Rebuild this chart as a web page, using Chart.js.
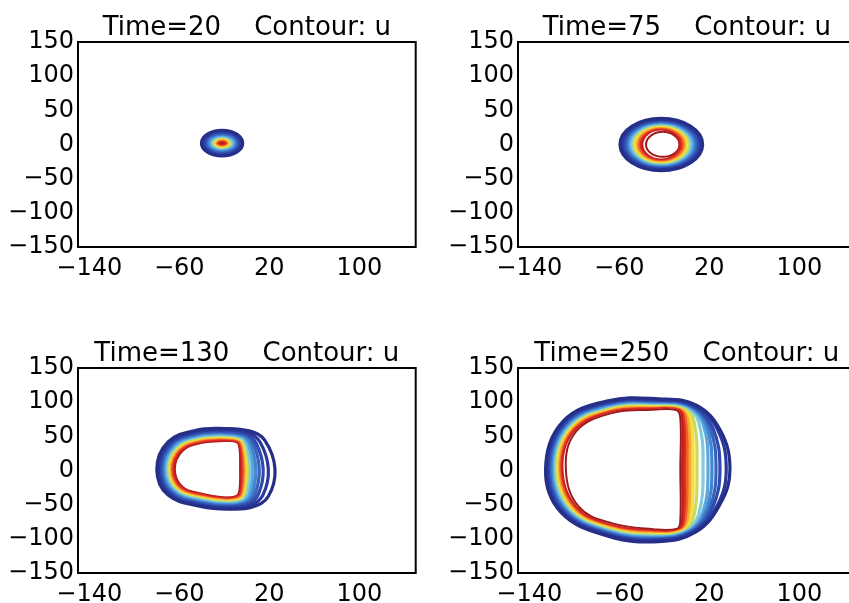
<!DOCTYPE html>
<html>
<head>
<meta charset="utf-8">
<script src="https://cdn.jsdelivr.net/npm/chart.js@4.4.1/dist/chart.umd.min.js"></script>
<style>
  html, body { margin: 0; padding: 0; background: #fff; overflow: hidden; width: 849px; height: 603px; }
  canvas { position: absolute; }
</style>
</head>
<body>
<canvas id="c0" width="430" height="300" style="left:0px;top:0px"></canvas>
<canvas id="c1" width="430" height="300" style="left:440px;top:0px"></canvas>
<canvas id="c2" width="430" height="300" style="left:0px;top:326px"></canvas>
<canvas id="c3" width="430" height="300" style="left:440px;top:326px"></canvas>
<script>
var times = [20, 75, 130, 250];
var xTicks = [-140, -60, 20, 100];
var yTicks = [-150, -100, -50, 0, 50, 100, 150];

// contour levels, outermost (low u) first
var levelColors = ['#252f88', '#2a389b', '#2f49ac', '#3762bc', '#4284cf', '#58a8dd', '#84c9dc',
                   '#c4dc62', '#f6de3b', '#f7a634', '#f0622a', '#de2a22', '#c41f1f', '#9c1a1a'];

// each ring: points, going round the contour
var rings20 = [
    [[-40.5, 2], [-22, 21], [-3.5, 2], [-22, -17]],
    [[-39, 2], [-22, 19.5], [-5, 2], [-22, -15.5]],
    [[-37.5, 2], [-22, 18], [-6.5, 2], [-22, -14]],
    [[-36.1, 2], [-22, 16.4], [-7.9, 2], [-22, -12.4]],
    [[-34.6, 2], [-22, 14.9], [-9.4, 2], [-22, -10.9]],
    [[-33.1, 2], [-22, 13.4], [-10.9, 2], [-22, -9.4]],
    [[-31.8, 2], [-22, 12.1], [-12.2, 2], [-22, -8.1]],
    [[-30.5, 2], [-22, 10.7], [-13.5, 2], [-22, -6.7]],
    [[-29.4, 2], [-22, 9.6], [-14.6, 2], [-22, -5.6]],
    [[-28.3, 2], [-22, 8.5], [-15.7, 2], [-22, -4.5]],
    [[-27.2, 2], [-22, 7.3], [-16.8, 2], [-22, -3.3]],
    [[-25.9, 2], [-22, 6], [-18.1, 2], [-22, -2]],
    [[-24.6, 2], [-22, 4.7], [-19.4, 2], [-22, -0.7]],
    [[-23.3, 2], [-22, 3.3], [-20.7, 2], [-22, 0.7]]
];

var rings75 = [
    [[-59.5, 0], [-22.7, 38.3], [14.1, 0], [-22.7, -38.3]],
    [[-57.9, 0], [-22.8, 37], [12.4, 0], [-22.8, -37]],
    [[-56.2, 0], [-22.7, 35.7], [10.8, 0], [-22.7, -35.7]],
    [[-54.6, 0], [-22.8, 34.4], [9.1, 0], [-22.8, -34.4]],
    [[-53, 0], [-22.8, 33.1], [7.4, 0], [-22.8, -33.1]],
    [[-51.4, 0], [-22.8, 31.8], [5.8, 0], [-22.8, -31.8]],
    [[-49.8, 0], [-22.8, 30.5], [4.1, 0], [-22.8, -30.5]],
    [[-48.1, 0], [-22.9, 29.2], [2.4, 0], [-22.9, -29.2]],
    [[-46.5, 0], [-22.9, 27.9], [0.8, 0], [-22.9, -27.9]],
    [[-44.9, 0], [-22.9, 26.6], [-0.9, 0], [-22.9, -26.6]],
    [[-43.3, 0], [-22.9, 25.3], [-2.6, 0], [-22.9, -25.3]],
    [[-41.6, 0], [-22.9, 24], [-4.2, 0], [-22.9, -24]],
    [[-40, 0], [-23, 22.7], [-5.9, 0], [-23, -22.7]],
    [[-36.3, 0], [-21.4, 18.5], [-6.5, 0], [-21.4, -18]]
];

var rings130 = [
    [[-80, 2], [-70, 42], [-45, 59], [-20, 61.5], [2, 58], [16, 44], [25, 2], [19, -38], [5, -53.5], [-15, -56.5], [-40, -53], [-70, -36]],
    [[-78.6, 2], [-68.8, 40.8], [-44.6, 57.3], [-20, 59.8], [0.5, 55.7], [11.7, 41.7], [19.1, 2], [14.2, -36.1], [3, -51.2], [-15.5, -55], [-40, -51.3], [-68.8, -34.9]],
    [[-77.2, 2], [-67.7, 39.7], [-44.1, 55.8], [-20, 58.3], [-0.9, 53.7], [8.3, 39.9], [14.5, 2], [10.3, -34.6], [1.4, -49.2], [-15.9, -53.5], [-40, -49.7], [-67.7, -33.9]],
    [[-75.8, 2], [-66.6, 38.6], [-43.7, 54.2], [-20, 56.7], [-1.9, 52.1], [5.9, 38.6], [11, 2], [7.5, -33.5], [0, -47.6], [-16.3, -52.1], [-40, -48.1], [-66.6, -32.9]],
    [[-74.6, 2], [-65.6, 37.6], [-43.3, 52.7], [-20, 55.2], [-2.9, 50.7], [3.6, 37.4], [8, 2], [5, -32.5], [-1.2, -46.2], [-16.7, -50.7], [-40, -46.5], [-65.6, -31.9]],
    [[-73.3, 2], [-64.5, 36.5], [-42.9, 51.2], [-20, 53.7], [-3.8, 49.3], [1.8, 36.4], [5.5, 2], [2.9, -31.7], [-2.4, -44.8], [-17.1, -49.4], [-40, -45], [-64.5, -31]],
    [[-72, 2], [-63.5, 35.5], [-42.5, 49.8], [-20, 52.3], [-4.6, 48.1], [0.2, 35.6], [3.3, 2], [1.1, -31], [-3.4, -43.6], [-17.5, -48], [-40, -43.5], [-63.5, -30]],
    [[-70.8, 2], [-62.5, 34.5], [-42.1, 48.4], [-20, 50.9], [-5.3, 47.1], [-0.9, 35], [1.8, 2], [-0.1, -30.5], [-4.2, -42.6], [-17.9, -46.7], [-40, -42.1], [-62.5, -29.1]],
    [[-69.8, 2], [-61.7, 33.7], [-41.8, 47.2], [-20, 49.7], [-5.9, 46.2], [-1.8, 34.5], [0.5, 2], [-1.1, -30.1], [-5, -41.7], [-18.2, -45.6], [-40, -40.8], [-61.7, -28.3]],
    [[-68.8, 2], [-60.9, 32.9], [-41.5, 46.1], [-20, 48.6], [-6.4, 45.4], [-2.7, 34], [-0.7, 2], [-2.2, -29.7], [-5.7, -40.9], [-18.5, -44.6], [-40, -39.7], [-60.9, -27.6]],
    [[-67.6, 2], [-59.9, 31.9], [-41.1, 44.7], [-20, 47.2], [-7.1, 44.3], [-3.8, 33.4], [-2.3, 2], [-3.4, -29.2], [-6.6, -39.8], [-18.9, -43.3], [-40, -38.3], [-59.9, -26.7]],
    [[-66.4, 2], [-59, 31], [-40.8, 43.3], [-20, 45.8], [-7.7, 43.4], [-4.7, 33], [-3.5, 2], [-4.5, -28.8], [-7.4, -38.9], [-19.3, -42], [-40, -36.9], [-59, -25.8]],
    [[-65.2, 2], [-58, 30], [-40.4, 41.9], [-20, 44.4], [-8.3, 42.5], [-5.6, 32.5], [-4.8, 2], [-5.5, -28.4], [-8.2, -38], [-19.6, -40.8], [-40, -35.4], [-58, -24.9]],
    [[-64, 2], [-57, 29], [-40, 40.5], [-20, 43], [-9, 41.5], [-6.5, 32], [-6, 2], [-6.5, -28], [-9, -37], [-20, -39.5], [-40, -34], [-57, -24]]
];

var rings250 = [
    [[-125.5, 2], [-110, 72], [-70, 102], [-25, 105], [8, 96], [30, 58], [38.3, 2], [30, -48], [8, -90], [-25, -104], [-70, -96], [-112, -61]],
    [[-124.3, 2], [-109.3, 70.8], [-69.8, 100.8], [-25.4, 103.9], [6.6, 95.7], [27.3, 59.7], [35, 2], [27.3, -50.2], [6.7, -89.8], [-25.4, -102.7], [-69.8, -94.7], [-110.8, -60.5]],
    [[-123.1, 2], [-108.5, 69.7], [-69.7, 99.5], [-25.8, 102.8], [4.8, 95.2], [22.9, 62.6], [29.4, 2], [22.9, -53.9], [5, -89.6], [-25.8, -101.4], [-69.7, -93.3], [-109.7, -60]],
    [[-121.9, 2], [-107.8, 68.5], [-69.5, 98.3], [-26.3, 101.8], [3.4, 94.9], [20, 64.5], [25.9, 2], [20, -56.3], [3.7, -89.5], [-26.3, -100.1], [-69.5, -92], [-108.5, -59.5]],
    [[-120.7, 2], [-107, 67.3], [-69.3, 97], [-26.7, 100.7], [1.9, 94.6], [17.1, 66.4], [22.3, 2], [17.1, -58.6], [2.3, -89.3], [-26.7, -98.8], [-69.3, -90.7], [-107.3, -59]],
    [[-119.5, 2], [-106.2, 66.2], [-69.2, 95.7], [-27.1, 99.6], [0.5, 94.2], [14.4, 68.1], [18.8, 2], [14.4, -60.9], [1, -89.1], [-27.1, -97.5], [-69.2, -89.3], [-106.2, -58.5]],
    [[-118.3, 2], [-105.5, 65], [-69, 94.5], [-27.5, 98.5], [-1.1, 93.9], [10.6, 70.5], [14.4, 2], [10.6, -64], [-0.6, -88.9], [-27.5, -96.2], [-69, -88], [-105, -58]],
    [[-117.1, 2], [-104.8, 63.8], [-68.8, 93.3], [-27.9, 97.4], [-2.9, 93.4], [6.2, 73.4], [9, 2], [6.2, -67.6], [-2.2, -88.7], [-27.9, -95], [-68.8, -86.7], [-103.8, -57.5]],
    [[-115.8, 2], [-104, 62.7], [-68.7, 92], [-28.3, 96.3], [-4.2, 93.1], [3.5, 75.2], [5.5, 2], [3.5, -69.8], [-3.5, -88.6], [-28.3, -93.7], [-68.7, -85.3], [-102.7, -57]],
    [[-114.6, 2], [-103.3, 61.5], [-68.5, 90.8], [-28.8, 95.3], [-5.6, 92.8], [1.3, 76.6], [2.8, 2], [1.3, -71.7], [-4.8, -88.4], [-28.8, -92.4], [-68.5, -84], [-101.5, -56.5]],
    [[-113.4, 2], [-102.5, 60.3], [-68.3, 89.5], [-29.2, 94.2], [-6.7, 92.5], [-0.6, 77.8], [0.5, 2], [-0.6, -73.2], [-5.9, -88.3], [-29.2, -91.1], [-68.3, -82.7], [-100.3, -56]],
    [[-112.2, 2], [-101.7, 59.2], [-68.2, 88.2], [-29.6, 93.1], [-7.8, 92.3], [-2.2, 78.9], [-1.6, 2], [-2.2, -74.5], [-6.9, -88.1], [-29.6, -89.8], [-68.2, -81.3], [-99.2, -55.5]],
    [[-111, 2], [-101, 58], [-68, 87], [-30, 92], [-9, 92], [-4, 80], [-3.8, 2], [-4, -76], [-8, -88], [-30, -88.5], [-68, -80], [-98, -55]],
    [[-107.5, 2.5], [-98.5, 57], [-66.8, 84], [-30, 89], [-9.5, 88.5], [-5.8, 77], [-5.8, 2], [-5.8, -73], [-8.5, -85], [-30, -85.8], [-66.8, -77], [-96, -53]]
];

var allRings = [rings20, rings75, rings130, rings250];
var lineWidths = [2.8, 3, 3.2, 3.2];

Chart.defaults.font.family = '"DejaVu Sans", sans-serif';
Chart.defaults.font.size = 24;
Chart.defaults.color = '#000';

function minusLabel(v) {
    return v < 0 ? '\u2212' + Math.abs(v) : '' + v;
}

// closed contour: wrap one point on each side so the spline has neighbours, hide the wrap segments
function ringDataset(pts, i, width, count) {
    var n = pts.length;
    var seq = [pts[n - 1]].concat(pts, [pts[0], pts[1]]);
    var last = seq.length - 1;
    return {
        data: seq.map(function (p) { return { x: p[0], y: p[1] }; }),
        showLine: true,
        borderColor: levelColors[i],
        borderWidth: i === count - 1 ? 2 : width,
        borderJoinStyle: 'round',
        pointRadius: 0,
        pointHoverRadius: 0,
        tension: n === 4 ? 0.55 : 0.4,
        segment: {
            borderColor: function (ctx) {
                return (ctx.p0DataIndex === 0 || ctx.p1DataIndex === last) ? 'rgba(0,0,0,0)' : undefined;
            }
        }
    };
}

var framePlugin = {
    id: 'frame',
    afterDatasetsDraw: function (chart) {
        var a = chart.chartArea, ctx = chart.ctx;
        ctx.save();
        ctx.strokeStyle = '#000';
        ctx.lineWidth = 2;
        ctx.strokeRect(a.left, a.top, a.right - a.left, a.bottom - a.top);
        ctx.restore();
    }
};

function drawPanel(k) {
    var rings = allRings[k];
    new Chart(document.getElementById('c' + k), {
        type: 'scatter',
        data: {
            datasets: rings.map(function (r, i) { return ringDataset(r, i, lineWidths[k], rings.length); })
        },
        options: {
            responsive: false,
            animation: false,
            events: [],
            layout: { padding: { left: 0, right: 14.3, top: 0, bottom: 0 } },
            plugins: {
                legend: { display: false },
                tooltip: { enabled: false },
                title: {
                    display: true,
                    text: 'Time=' + times[k] + '    Contour: u',
                    fullSize: false,
                    color: '#000',
                    font: { size: 26, weight: 'normal', lineHeight: 1 },
                    padding: { top: 15.5, bottom: 0.5 }
                }
            },
            scales: {
                x: {
                    type: 'linear',
                    min: -150,
                    max: 150,
                    grid: { display: false, drawTicks: false },
                    border: { display: false },
                    ticks: { padding: 7, maxRotation: 0, autoSkip: false, callback: minusLabel },
                    afterBuildTicks: function (s) { s.ticks = xTicks.map(function (v) { return { value: v }; }); },
                    afterFit: function (s) { s.height = 53; }
                },
                y: {
                    type: 'linear',
                    min: -150,
                    max: 150,
                    grid: { display: false, drawTicks: false },
                    border: { display: false },
                    ticks: { padding: 4, autoSkip: false, callback: minusLabel },
                    afterBuildTicks: function (s) { s.ticks = yTicks.map(function (v) { return { value: v }; }); },
                    afterFit: function (s) { s.width = 78; }
                }
            }
        },
        plugins: [framePlugin]
    });
}

for (var k = 0; k < 4; k++) drawPanel(k);
</script>
</body>
</html>
